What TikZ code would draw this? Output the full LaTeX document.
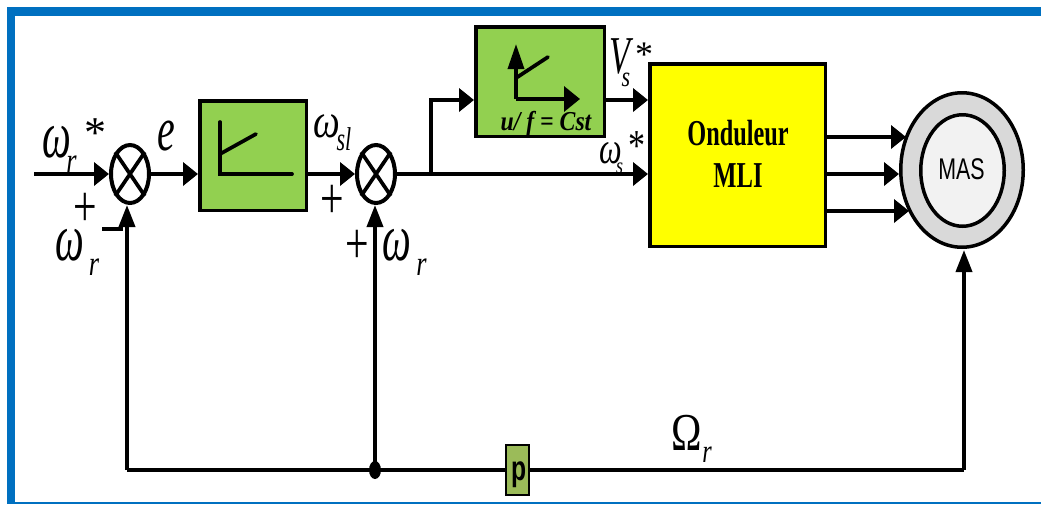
\documentclass[tikz,border=0pt]{standalone}
\usepackage{fontspec}
\setmainfont{Liberation Serif}
\setsansfont{Liberation Sans}
\usetikzlibrary{arrows.meta,shapes.geometric}
\definecolor{bluebar}{HTML}{0070C0}
\definecolor{greenbox}{HTML}{92D050}
\definecolor{olivebox}{HTML}{9BBB59}
\definecolor{ringgray}{HTML}{D9D9D9}
\definecolor{coregray}{HTML}{F2F2F2}
\definecolor{purey}{RGB}{255,255,0}
\newcommand{\sty}[3]{\scalebox{#1}[#2]{#3}}
\newcommand{\fs}[1]{\fontsize{#1}{#1}\selectfont}
\tikzset{
  every node/.style={inner sep=0pt,outer sep=0pt},
  conn/.style={line width=3.7pt,-{Triangle[length=15pt,width=23pt]}},
  upconn/.style={line width=3.7pt,-{Triangle[length=22pt,width=16pt]}},
  wire/.style={line width=3.7pt},
  sumj/.style={ellipse,draw=black,line width=4pt,outer sep=2pt,fill=white,minimum width=38pt,minimum height=58pt},
  greenblk/.style={rectangle,draw=black,line width=3.5pt,outer sep=1.75pt,fill=greenbox},
  lab/.style={anchor=base,font=\itshape},
}
\begin{document}
\begin{tikzpicture}[x=1pt,y=-1pt]
\useasboundingbox (0,0) rectangle (1041,504);
% frame
\fill[bluebar] (7,7) rectangle (1041,16);
\fill[bluebar] (7,7) rectangle (15,504);
\fill[bluebar] (7,501.5) rectangle (1041,504);

% blocks
\node[sumj] (s1) at (130,174) {};
\node[sumj] (s2) at (376,174) {};
\node[greenblk,minimum width=106.5pt,minimum height=109.5pt] (reg) at (253,155.5) {};
\node[greenblk,minimum width=128.5pt,minimum height=109.5pt] (vf) at (540,81.5) {};
\node[rectangle,draw=black,line width=3.5pt,outer sep=1.75pt,fill=purey,minimum width=175.5pt,minimum height=182.5pt] (mli) at (737.5,155) {};
\node[ellipse,draw=black,line width=3.5pt,outer sep=1.75pt,fill=ringgray,minimum width=122.5pt,minimum height=154.5pt] (mot) at (962,170) {};
\node[ellipse,draw=black,line width=3.5pt,fill=coregray,minimum width=83.5pt,minimum height=111.5pt] (core) at (962.5,170.5) {};
\node[anchor=center] (mastext) at (961.5,169) {\sffamily\sty{0.93}{1.3}{\fs{23}MAS}};
\node[rectangle,draw=black,line width=2pt,outer sep=1pt,fill=olivebox,minimum width=23pt,minimum height=50pt] (p) at (517.5,470) {};
\node[anchor=center] (ptext) at (519,475) {\sffamily\bfseries\sty{0.85}{1.2}{\fs{29}p}};

% crosses in the summing junctions
\draw[wire] (s1.north west) -- (s1.south east);
\draw[wire] (s1.north east) -- (s1.south west);
\draw[wire] (s2.north west) -- (s2.south east);
\draw[wire] (s2.north east) -- (s2.south west);

% coordinates
\coordinate (in) at (34,174);
\coordinate (bl) at (127,470);
\coordinate (br) at (964,470);
\coordinate (tap) at (375,470);
\coordinate (fork) at (431,174);
\coordinate (forkup) at (431,100);
\coordinate (vfin) at (vf.west |- forkup);
\coordinate (a1) at (827,137);
\coordinate (a2) at (827,174);
\coordinate (a3) at (827,211);
\coordinate (a1e) at (906,137);
\coordinate (a2e) at (899,174);
\coordinate (a3e) at (909,211);
\coordinate (vfout) at (606,100);
\coordinate (mliv) at (648,100);
\coordinate (mliw) at (648,174);
\coordinate (s1b) at (127,205);
\coordinate (s2b) at (375,205);
\coordinate (motb) at (964,250);

% connectors
\draw[conn] (in) -- (s1.west);
\draw[conn] (s1.east) -- (reg.west |- s1.east);
\draw[conn] (reg.east |- s2.west) -- (s2.west);
\draw[conn] (s2.east) -- (mliw);
\draw[conn] (fork) -- (forkup) -- (vfin);
\draw[conn] (vfout) -- (mliv);
\draw[conn] (a1) -- (a1e);
\draw[conn] (a2) -- (a2e);
\draw[conn] (a3) -- (a3e);
\draw[upconn] (bl) -- (s1b);
\draw[upconn] (tap) -- (s2b);
\draw[upconn] (br) -- (motb);
\draw[wire] (bl) -- (p.west);
\draw[wire] (p.east) -- (br);
\fill (tap) ellipse [x radius=6pt,y radius=9pt];

% PI characteristic
\coordinate (g1o) at (220,174);
\draw[wire,line cap=round] (220,122) -- (g1o) -- (292,174);
\draw[wire,line cap=round] (220,154) -- (256,134);
% V/f characteristic
\coordinate (g2o) at (516,99);
\draw[line width=3.5pt,-{Triangle[length=25pt,width=16pt]}] (g2o) -- (516,44);
\draw[line width=3.5pt,-{Triangle[length=16pt,width=25pt]}] (g2o) -- (580,99);
\draw[wire,line cap=round] (516,78) -- (548,57);

% labels
\node[lab] at (56.5,157) {\sty{1.1}{1.8}{\fs{37}ω}};
\node[lab] at (71.5,172) {\sty{1.2}{1.6}{\fs{22}r}};
\node[anchor=base] at (95.5,147) {\fs{44}*};
\node[lab] at (166.5,150) {\sty{1.05}{1.65}{\fs{38}e}};
\node[anchor=base] at (85,226.6) {\sty{1.1}{1.55}{\fs{38}+}};
\node[fill=black,minimum width=21pt,minimum height=4pt] (minus) at (112.5,229) {};
\node[lab] at (69.5,260) {\sty{1.1}{1.8}{\fs{37}ω}};
\node[lab] at (94,275) {\sty{1.2}{1.6}{\fs{22}r}};
\node[lab] at (327,137) {\sty{1.05}{1.35}{\fs{36}ω}};
\node[lab] at (344,150) {\sty{1}{1.5}{\fs{22}sl}};
\node[anchor=base] at (332,218.6) {\sty{1.1}{1.55}{\fs{38}+}};
\node[anchor=base] at (357,263.6) {\sty{1.1}{1.55}{\fs{38}+}};
\node[lab] at (396.5,260) {\sty{1.1}{1.8}{\fs{37}ω}};
\node[lab] at (421.5,275) {\sty{1.2}{1.6}{\fs{22}r}};
\node[lab] at (620,73) {\sty{0.9}{1.4}{\fs{38}V}};
\node[lab] at (626,86.5) {\sty{1}{1.3}{\fs{22}s}};
\node[anchor=base] at (644,66) {\fs{36}*};
\node[lab] at (611,163) {\sty{1}{1.4}{\fs{32}ω}};
\node[lab] at (619.5,173) {\sty{1}{1.25}{\fs{18}s}};
\node[anchor=base] at (636.5,160) {\sty{1}{1.3}{\fs{34}*}};
\node[anchor=base,font=\bfseries\itshape] at (546,130) {\sty{1.13}{1.3}{\fs{21}u/ f = Cst}};
\node[font=\bfseries] at (738,133) {\sty{0.9}{1.35}{\fs{27}Onduleur}};
\node[font=\bfseries] at (738,176) {\sty{0.91}{1.35}{\fs{27}MLI}};
\node[anchor=base] at (687,450) {\sty{1}{1.3}{\fs{41}Ω}};
\node[lab] at (707,462) {\sty{1.1}{1.5}{\fs{22}r}};
\end{tikzpicture}
\end{document}
